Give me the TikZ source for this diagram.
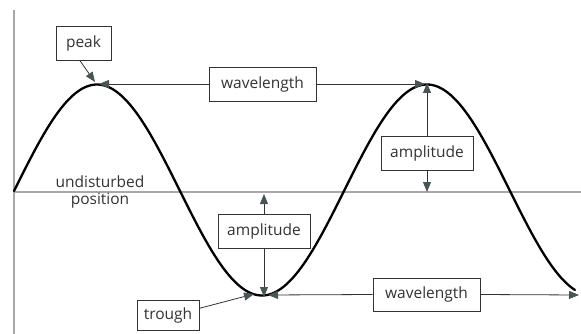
\documentclass[tikz,border=0pt]{standalone}
\usepackage{fontspec}
\setmainfont{Open Sans}
\usetikzlibrary{arrows.meta}
\definecolor{linec}{HTML}{333333}
\definecolor{tipc}{HTML}{465656}
\definecolor{axisc}{HTML}{A8A8A8}
\tikzset{
  lbl/.style={draw=linec, line width=0.9pt, fill=white, inner sep=0pt,
    minimum height=34pt, font=\fontsize{15.5}{18}\selectfont, text=black!80},
  arr/.style={draw=linec, line width=0.8pt,
    -{Triangle[length=10pt,width=8pt,fill=tipc,color=tipc]}},
  plain/.style={font=\fontsize{15.5}{18}\selectfont, text=black!80, inner sep=0pt},
  wave/.style={line width=2.3pt, black},
  axis/.style={axisc, line width=1.4pt}
}
\begin{document}
\begin{tikzpicture}[x=1pt,y=-1pt]
\useasboundingbox (0,0) rectangle (581,334);
% axes
\coordinate (ax0) at (14,10);
\coordinate (ax1) at (14,334);
\coordinate (ux0) at (14,192);
\coordinate (ux1) at (581,192);
\draw[axis] (ax0) -- (ax1);
\draw[axis] (ux0) -- (ux1);
% wave
\draw[wave, line cap=round] plot[domain=14:575, samples=240, smooth] (\x, {190-105.5*cos(1.090909*(\x-97))});
% key points
\coordinate (pk1) at (97,84);
\coordinate (pk2) at (427,84);
\coordinate (tr1) at (264,295);
\coordinate (tr2) at (579,295);
\coordinate (ax1p) at (427,192);
\coordinate (ax2p) at (264,194);
% labels
\node[lbl, minimum width=55pt] (peak) at (83.5,43) {peak};
\node[lbl, minimum width=107pt] (wl1) at (262.5,84) {wavelength};
\node[lbl, minimum width=92pt] (amp1) at (427,153) {amplitude};
\node[lbl, minimum width=92pt] (amp2) at (264,231) {amplitude};
\node[lbl, minimum width=62pt, minimum height=30pt] (trough) at (168,315) {trough};
\node[lbl, minimum width=107pt, minimum height=33pt] (wl2) at (426.5,294.5) {wavelength};
\node[plain] (und) at (100,182) {undisturbed};
\node[plain] (pos) at (100,201) {position};
% arrows
\draw[arr] (peak.258) -- ([shift={(-2,-2)}]pk1);
\draw[arr] (wl1.west) -- ([xshift=2pt]pk1);
\draw[arr] (wl1.east) -- ([xshift=-2pt]pk2);
\draw[arr] (amp1.north) -- ([yshift=1pt]pk2);
\draw[arr] (amp1.south) -- (ax1p);
\draw[arr] (amp2.north) -- (ax2p);
\draw[arr] (amp2.south) -- ([yshift=-2pt]tr1);
\draw[arr] (trough.12) -- ([shift={(-10,-1)}]tr1);
\draw[arr] (wl2.west) -- ([xshift=4pt]tr1);
\draw[arr] (wl2.east) -- (tr2);
\end{tikzpicture}
\end{document}
